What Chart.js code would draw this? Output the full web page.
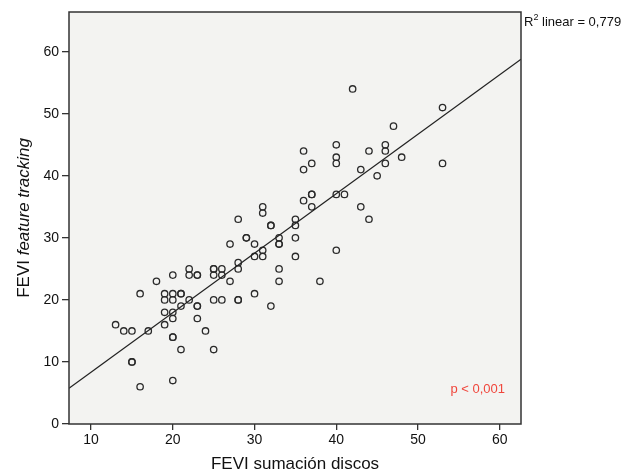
<!DOCTYPE html><html lang="es">
<head>
  <meta charset="UTF-8" />
  <title>FEVI scatter</title>
  <style>
    html, body { margin:0; padding:0; background:#fff; }
    #wrap { width:636px; height:474px; }
  </style>
  <script src="https://cdn.jsdelivr.net/npm/chart.js"></script>
</head>
<body>
  <div id="wrap"><canvas id="c" width="636" height="474"></canvas></div>
<script>
  // FEVI sumación discos (x) vs FEVI feature tracking (y)
  const feviDiscos = [31,31,28,32,32,29,29,27,30,33,33,33,30,31,31,28,28,27,33,33,30,32,
    25,25,26,25,26,23,23,22,22,20,18,16,19,20,21,21,19,20,22,25,26,28,28,19,20,21,23,23,20,23,19,13,14,15,17,24,20,20,21,25,15,15,20,16,
    42,53,47,40,46,36,44,46,40,48,40,37,53,46,36,43,45,37,37,40,41,36,37,43,35,44,35,35,35,40,38];
  const feviTracking = [35,34,33,32,32,30,30,29,29,30,29,29,27,28,27,26,25,23,25,23,21,19,
    25,25,25,24,24,24,24,25,24,24,23,21,21,21,21,21,20,20,20,20,20,20,20,18,18,19,19,19,17,17,16,16,15,15,15,15,14,14,12,12,10,10,7,6,
    54,51,48,45,45,44,44,44,43,43,42,42,42,42,41,41,40,37,37,37,37,36,35,35,33,33,32,30,27,28,23];
  // fitted line, ends read at the plot borders
  const fitX = [7.3, 62.6];
  const fitY = [5.76, 58.8];
  const xTicks = [10,20,30,40,50,60];
  const yTicks = [0,10,20,30,40,50,60];
  const r2Text = 'linear = 0,779';
  const pText = 'p < 0,001';

  const pts = feviDiscos.map((x,i)=>({x, y:feviTracking[i]}));
  const line = fitX.map((x,i)=>({x, y:fitY[i]}));

  const spss = {
    id:'spss',
    beforeDraw(ch){
      const {ctx, chartArea:a} = ch;
      ctx.save(); ctx.fillStyle='#f3f3f1'; ctx.fillRect(a.left,a.top,a.right-a.left,a.bottom-a.top); ctx.restore();
    },
    afterDraw(ch){
      const {ctx, chartArea:a} = ch;
      ctx.save();
      ctx.strokeStyle='#333'; ctx.lineWidth=1.5;
      ctx.strokeRect(a.left,a.top,a.right-a.left,a.bottom-a.top);
      // x title
      ctx.fillStyle='#111'; ctx.font='17px "Liberation Sans", Arial, sans-serif';
      ctx.textAlign='center'; ctx.textBaseline='alphabetic';
      ctx.fillText('FEVI sumación discos', (a.left+a.right)/2, 469);
      // y title, mixed roman/italic
      ctx.translate(29, (a.top+a.bottom)/2); ctx.rotate(-Math.PI/2);
      const f1='17px "Liberation Sans", Arial, sans-serif', f2='italic 17px "Liberation Sans", Arial, sans-serif';
      ctx.font=f1; const w1=ctx.measureText('FEVI ').width;
      ctx.font=f2; const w2=ctx.measureText('feature tracking').width;
      let sx=-(w1+w2)/2; ctx.textAlign='left';
      ctx.font=f1; ctx.fillText('FEVI ', sx, 0);
      ctx.font=f2; ctx.fillText('feature tracking', sx+w1, 0);
      ctx.restore();
      // R² label
      ctx.save();
      ctx.fillStyle='#111'; ctx.textAlign='left'; ctx.textBaseline='alphabetic';
      ctx.font='13px "Liberation Sans", Arial, sans-serif';
      ctx.fillText('R', a.right+3, 26);
      const rw=ctx.measureText('R').width;
      ctx.font='9px "Liberation Sans", Arial, sans-serif';
      ctx.fillText('2', a.right+3+rw, 20);
      ctx.font='13px "Liberation Sans", Arial, sans-serif';
      ctx.fillText(' '+r2Text, a.right+3+rw+5, 26);
      // p value
      ctx.fillStyle='#f0463c'; ctx.font='13px "Liberation Sans", Arial, sans-serif';
      ctx.textAlign='right';
      ctx.fillText(pText, 505, 393);
      ctx.restore();
    }
  };

  const tickFont = {family:'"Liberation Sans", Arial, sans-serif', size:14};
  new Chart(document.getElementById('c'), {
    type:'scatter',
    data:{datasets:[
      {type:'line', data:line, borderColor:'#222', borderWidth:1.2, pointRadius:0, fill:false, tension:0, order:1},
      {data:pts, pointRadius:3.2, pointBorderWidth:1.3, pointBorderColor:'#2a2a2a', pointBackgroundColor:'rgba(0,0,0,0)', order:2}
    ]},
    options:{
      responsive:false, animation:false,
      layout:{padding:{top:12, right:115, left:0, bottom:0}},
      plugins:{legend:{display:false}, tooltip:{enabled:false}},
      scales:{
        x:{type:'linear', min:7.3, max:62.6,
          afterBuildTicks(s){ s.ticks = xTicks.map(v=>({value:v})); },
          afterFit(s){ s.height=50; },
          grid:{drawOnChartArea:false, drawTicks:true, tickLength:6, color:'#333', lineWidth:1.3},
          border:{display:false},
          ticks:{color:'#111', font:tickFont, padding:2, maxRotation:0}},
        y:{type:'linear', min:0, max:66.4,
          afterBuildTicks(s){ s.ticks = yTicks.map(v=>({value:v})); },
          afterFit(s){ s.width=69; },
          grid:{drawOnChartArea:false, drawTicks:true, tickLength:7, color:'#333', lineWidth:1.3},
          border:{display:false},
          ticks:{color:'#111', font:tickFont, padding:3}}
      }
    },
    plugins:[spss]
  });
</script>
</body>
</html>
